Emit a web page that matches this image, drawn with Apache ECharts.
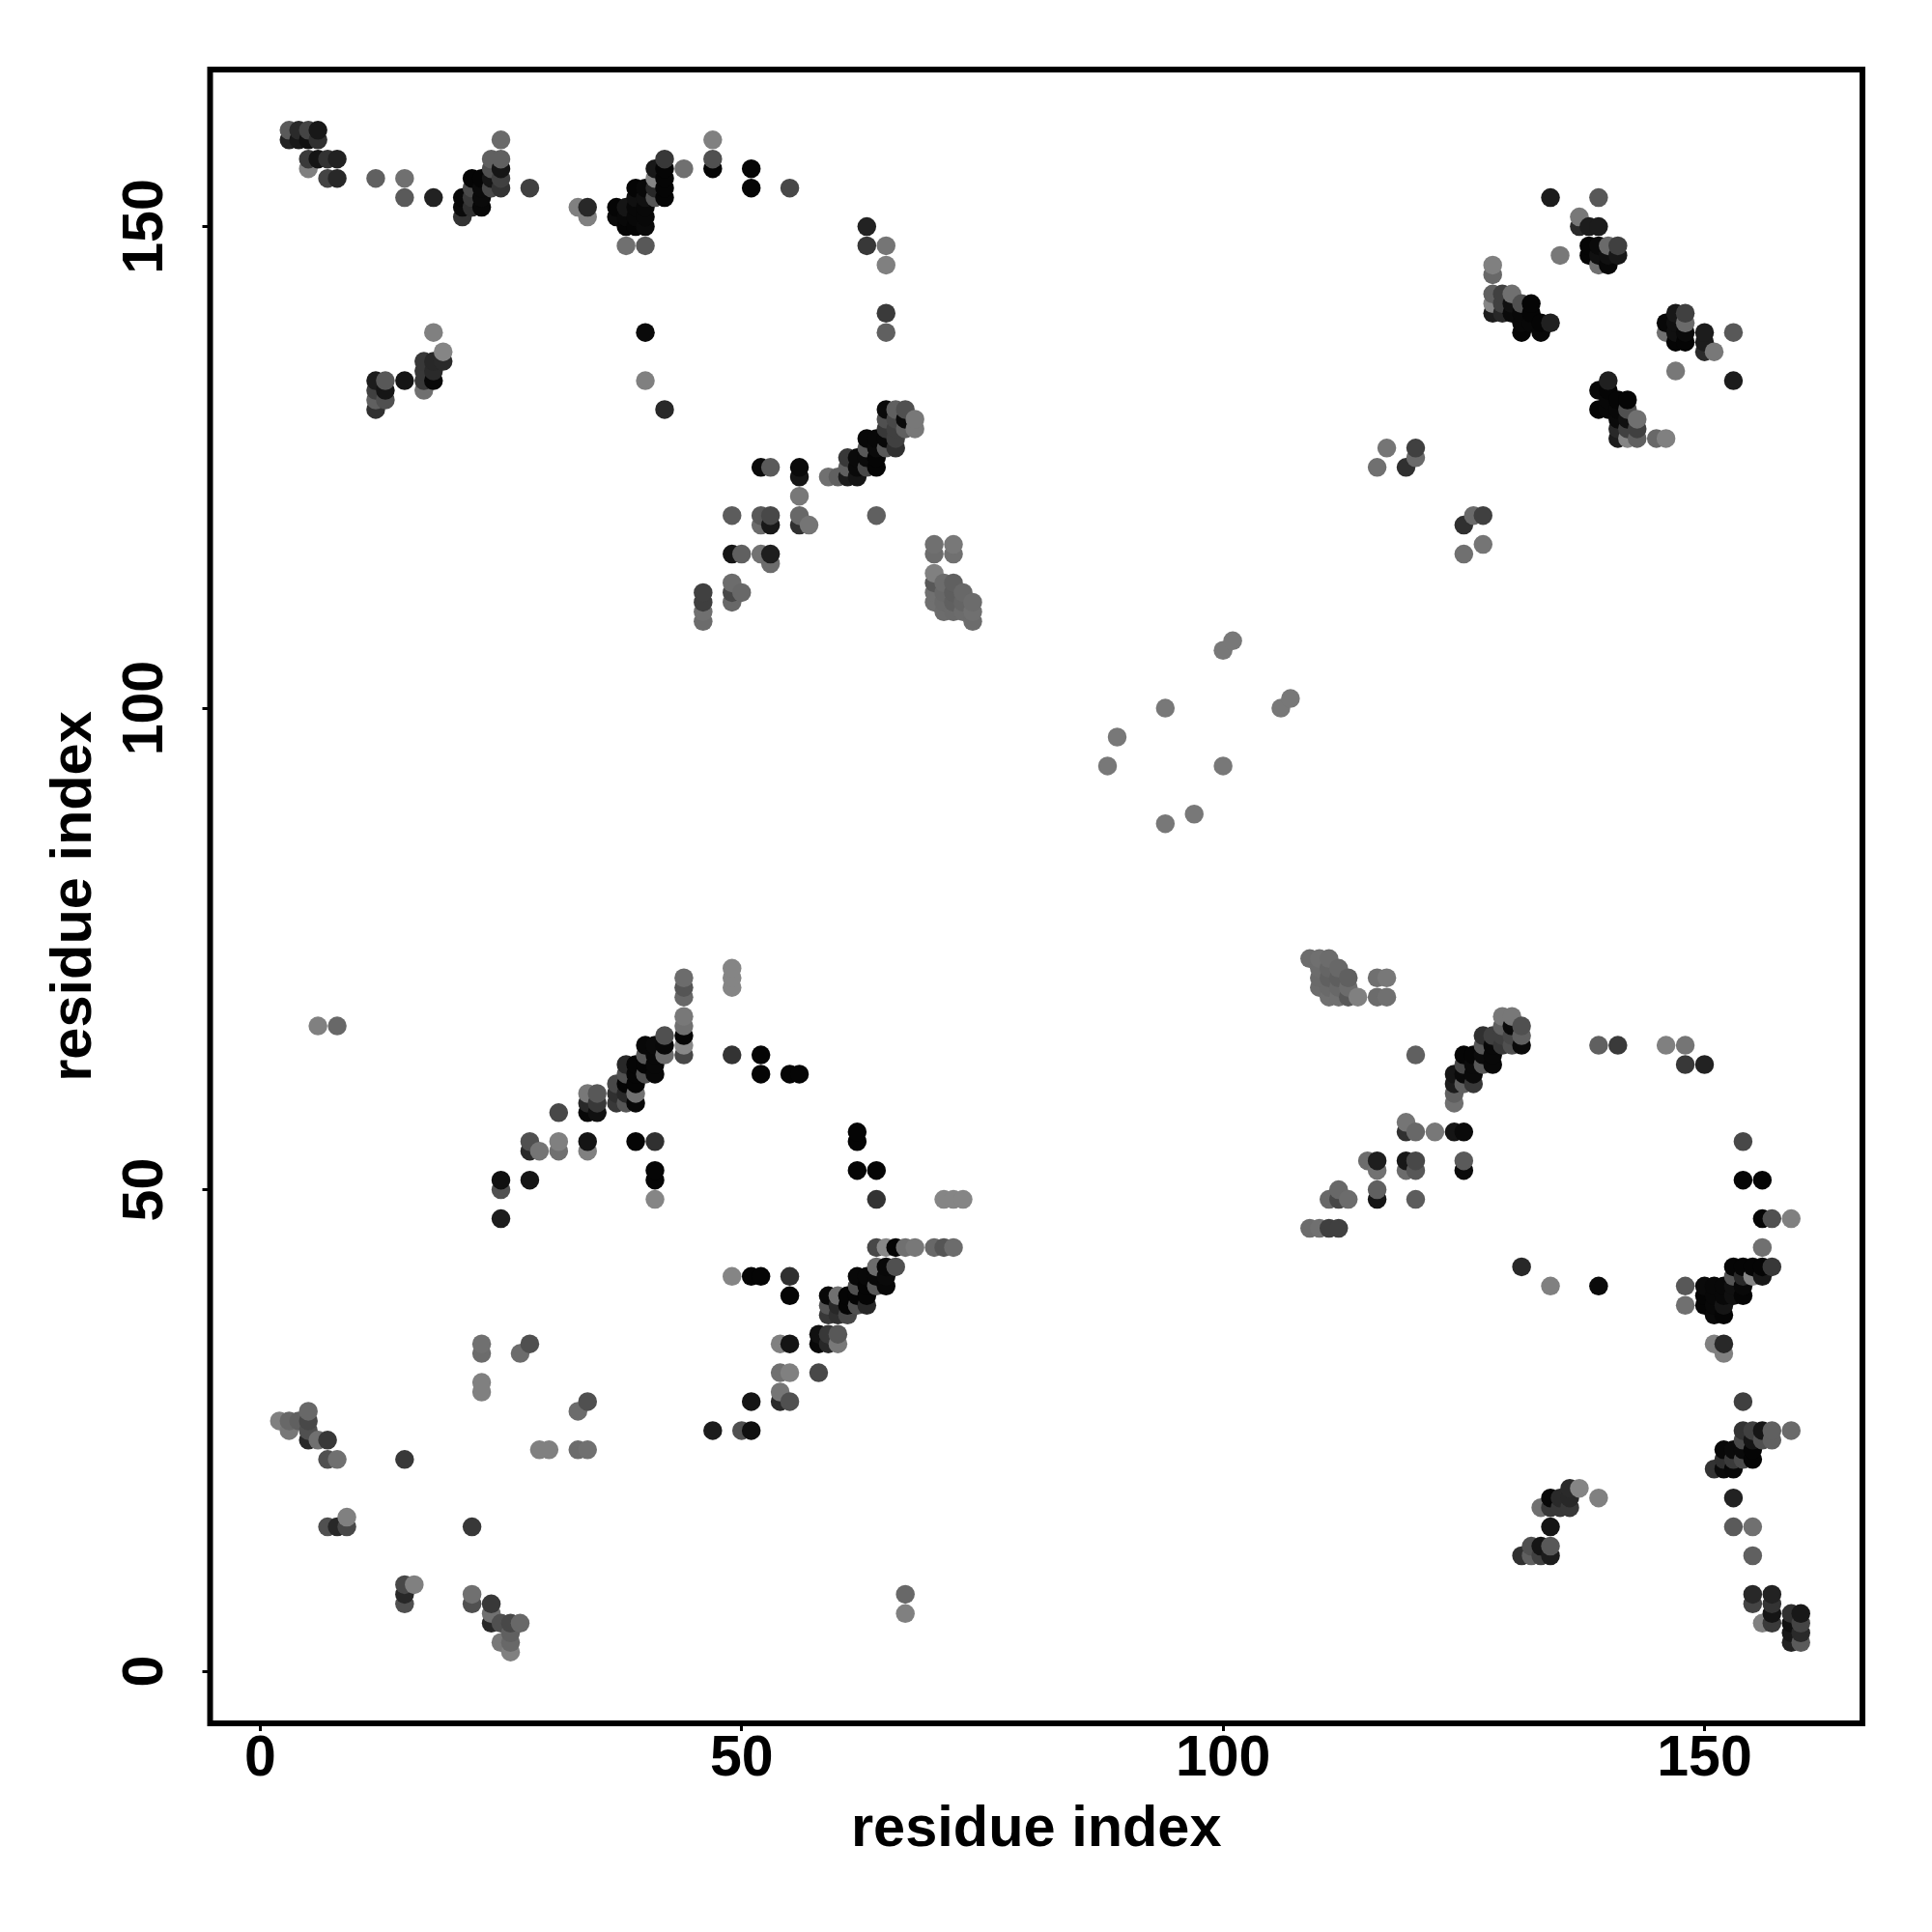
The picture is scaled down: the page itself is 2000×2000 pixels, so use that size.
<!DOCTYPE html>
<html>
<head>
<meta charset="utf-8">
<style>html,body{margin:0;padding:0;background:#fff}#c{width:2000px;height:2000px}</style>
<script src="https://cdn.jsdelivr.net/npm/echarts@6/dist/echarts.min.js"></script>
</head>
<body>
<div id="c"></div>
<script>
// Each contact: [residue i, residue j, depth]. The map is symmetric: (i,j) is also seen at (j,i).
// depth: 0 = strongest contact (darkest) ... 136 = weakest (lightest).
const tickValues = [0, 50, 100, 150];
const axisTitle = 'residue index';

const contactsN = [[3,160,0x5a],[3,159,0x22],[4,160,0x2a],[4,159,0x18],[5,160,0x44],[5,159,0x10],[6,160,0x18],[6,159,0x30],
 [5,157,0x3a],[6,157,0x15],[7,157,0x33],[8,157,0x22],[5,156,0x80],[7,155,0x44],[8,155,0x28],[12,155,0x60],[15,155,0x70],[15,153,0x5a],[18,153,0x22],
 [21,151,0x33],[21,152,0x0a],[21,153,0x08],[22,152,0x30],[22,153,0x3a],[22,154,0x4a],[22,155,0x05],[23,152,0x08],[23,153,0x0a],[23,154,0x0a],[23,155,0x05],
 [24,154,0x48],[24,155,0x15],[24,156,0x50],[24,157,0x60],[25,154,0x33],[25,155,0x40],[25,156,0x15],[25,157,0x60],[25,159,0x6a],[28,154,0x40]];

const contactsB = [[12,134,0x1c],[12,133,0x40],[12,132,0x60],[12,131,0x30],[13,134,0x58],[13,133,0x15],[13,132,0x50],[15,134,0x15],
 [17,136,0x38],[17,135,0x38],[17,134,0x38],[17,133,0x70],[18,136,0x28],[18,135,0x2a],[18,134,0x08],[18,139,0x80],[19,137,0x85],[19,136,0x2a]];

const contactsC = [[33,152,0x80],[34,152,0x28],[34,151,0x80],[37,152,0x05],[37,151,0x0a],[38,152,0x15],[38,151,0x08],[38,150,0x05],[38,148,0x70],
 [39,154,0x05],[39,153,0x10],[39,152,0x08],[39,151,0x08],[39,150,0x05],[40,154,0x08],[40,153,0x10],[40,152,0x08],[40,151,0x08],[40,150,0x0a],[40,148,0x58],[40,139,0x0a],[40,134,0x80],
 [41,156,0x18],[41,155,0x85],[41,154,0x28],[41,153,0x55],[42,157,0x38],[42,156,0x05],[42,155,0x05],[42,154,0x05],[42,153,0x05],[42,131,0x28],[44,156,0x70],
 [47,159,0x80],[47,157,0x50],[47,156,0x05],[51,156,0x05],[51,154,0x05],[55,154,0x48],[63,150,0x22],[63,148,0x38],[65,148,0x75],[65,146,0x80],[65,141,0x3a],[65,139,0x60]];

const contactsD = [[46,112,0x40],[46,111,0x3f],[46,110,0x70],[46,109,0x6c],[49,120,0x5c],[49,116,0x15],[49,113,0x6c],[49,112,0x48],[49,111,0x68],[50,116,0x60],[50,112,0x68],
 [52,125,0x0a],[52,120,0x58],[52,119,0x6c],[52,116,0x72],[53,125,0x5a],[53,120,0x48],[53,119,0x18],[53,116,0x1e],[53,115,0x6c],
 [56,125,0x0a],[56,124,0x15],[56,122,0x78],[56,120,0x68],[56,119,0x30],[57,119,0x75],[59,124,0x70],[60,124,0x60],
 [61,126,0x38],[61,125,0x60],[61,124,0x1c],[62,126,0x0a],[62,125,0x0a],[62,124,0x15],[63,128,0x08],[63,127,0x58],[63,126,0x0a],[63,125,0x48],
 [64,128,0x08],[64,127,0x0a],[64,126,0x05],[64,125,0x05],[64,120,0x60],[65,131,0x0a],[65,130,0x50],[65,129,0x38],[65,128,0x08],[65,127,0x58],
 [66,131,0x60],[66,130,0x48],[66,129,0x40],[66,128,0x40],[66,127,0x30],[67,131,0x50],[67,130,0x0a],[67,129,0x60],[68,130,0x78],[68,129,0x78]];

const contactsE = [[70,117,0x70],[70,116,0x6c],[70,114,0x80],[70,113,0x58],[70,112,0x70],[70,111,0x70],[71,113,0x6c],[71,112,0x68],[71,111,0x6a],[71,110,0x6c],
 [72,117,0x78],[72,116,0x70],[72,113,0x60],[72,112,0x5e],[72,111,0x60],[72,110,0x6a],[73,112,0x68],[73,111,0x65],[73,110,0x6c],[74,111,0x6c],[74,110,0x70],[74,109,0x6c]];

const contactsF = [[25,51,0x10],[25,50,0x50],[25,47,0x1c],[28,55,0x50],[28,54,0x2a],[28,51,0x15],[29,54,0x75],[31,58,0x48],[31,55,0x80],[31,54,0x70],
 [34,60,0x78],[34,59,0x28],[34,58,0x08],[34,55,0x14],[34,54,0x80],[35,60,0x58],[35,59,0x38],[35,58,0x10],[37,61,0x48],[37,60,0x30],[37,59,0x38],
 [38,63,0x28],[38,62,0x50],[38,61,0x05],[38,60,0x28],[38,59,0x55],[39,63,0x05],[39,62,0x05],[39,61,0x05],[39,60,0x70],[39,59,0x08],[39,55,0x05],
 [40,65,0x08],[40,64,0x58],[40,63,0x05],[40,62,0x50],[41,65,0x0a],[41,64,0x08],[41,63,0x08],[41,62,0x08],[41,55,0x30],[41,52,0x05],[41,51,0x05],[41,49,0x85],
 [42,66,0x50],[42,65,0x08],[42,64,0x6c],[44,72,0x6c],[44,71,0x55],[44,70,0x68],[44,68,0x78],[44,67,0x70],[44,66,0x05],[44,65,0x88],[44,64,0x48],
 [49,73,0x85],[49,72,0x85],[49,71,0x85],[49,64,0x33],[52,64,0x05],[52,62,0x05],[55,62,0x05],[56,62,0x05]];

const contactsH = [[128,146,0x80],[128,145,0x68],[128,143,0x60],[128,142,0x85],[128,141,0x1c],[129,143,0x40],[129,142,0x40],[129,141,0x28],[130,143,0x70],[130,142,0x10],[130,141,0x0a],
 [131,142,0x50],[131,141,0x08],[131,140,0x08],[131,139,0x05],[132,142,0x05],[132,141,0x05],[132,140,0x08],[133,140,0x05],[133,139,0x08],[134,140,0x20],[134,153,0x1c],
 [135,147,0x78],[137,151,0x78],[137,150,0x2a],[138,150,0x1c],[139,150,0x1c],[139,153,0x58],[138,148,0x05],[138,147,0x05],[139,148,0x0a],[139,147,0x10],[139,146,0x70],
 [140,148,0x6a],[140,147,0x10],[140,146,0x08],[141,148,0x40],[141,147,0x18]];

const contactsI = [[116,125,0x70],[117,127,0x75],[119,125,0x30],[120,127,0x40],[120,126,0x6a]];

const contactsJ = [[2,26,0x80],[3,26,0x68],[3,25,0x78],[4,26,0x60],[5,27,0x68],[5,26,0x48],[5,25,0x50],[5,24,0x28],[6,24,0x70],[7,24,0x38],[7,22,0x50],[8,22,0x70],[15,22,0x38],
 [7,15,0x50],[8,15,0x28],[9,15,0x48],[9,16,0x80],[6,67,0x80],[8,67,0x68],[23,34,0x70],[23,33,0x6c],[23,30,0x80],[23,29,0x80],[27,33,0x6c],[28,34,0x50]];

const contactsM = [[88,94,0x78],[89,97,0x78],[94,100,0x78],[100,106,0x78],[101,107,0x78]];

const contacts = [].concat(contactsN, contactsB, contactsC, contactsD, contactsE, contactsF, contactsH, contactsI, contactsJ, contactsM);
const points = [];
contacts.forEach(function (c) { points.push([c[0], c[1], c[2]]); points.push([c[1], c[0], c[2]]); });
// The picture paints column by column, bottom to top.
points.sort(function (a, b) { return a[0] - b[0] || a[1] - b[1]; });

const chart = echarts.init(document.getElementById('c'), null, {renderer: 'canvas'});
const font = 'Liberation Sans';
function axis(extra) {
  return Object.assign({
    type: 'value',
    name: axisTitle,
    nameLocation: 'middle',
    nameTextStyle: {fontFamily: font, fontWeight: 'bold', fontSize: 59.5, color: '#000'},
    axisLine: {show: false, onZero: false},
    axisTick: {show: true, length: 8, inside: false, customValues: tickValues, lineStyle: {color: '#000', width: 3}},
    splitLine: {show: false}
  }, extra);
}
chart.setOption({
  animation: false,
  backgroundColor: '#fff',
  grid: {left: 217.5, top: 72, width: 1710.5, height: 1712, show: true, borderColor: '#000', borderWidth: 6, backgroundColor: 'transparent', containLabel: false},
  xAxis: axis({
    min: -5.2, max: 166.4, nameGap: 81,
    axisLabel: {customValues: tickValues, fontFamily: font, fontWeight: 'bold', fontSize: 59, color: '#000', margin: 8, hideOverlap: false}
  }),
  yAxis: axis({
    min: -5.4, max: 166.3, nameGap: 110,
    axisLabel: {customValues: tickValues, rotate: 90, fontFamily: font, fontWeight: 'bold', fontSize: 59, color: '#000', margin: 36, hideOverlap: false}
  }),
  visualMap: {show: false, type: 'continuous', dimension: 2, seriesIndex: 0, min: 0, max: 136, inRange: {color: ['#000000', '#888888']}},
  series: [{type: 'scatter', data: points, symbol: 'circle', symbolSize: 19.5, silent: true, itemStyle: {opacity: 1}, progressive: 0}]
});
</script>
</body>
</html>
